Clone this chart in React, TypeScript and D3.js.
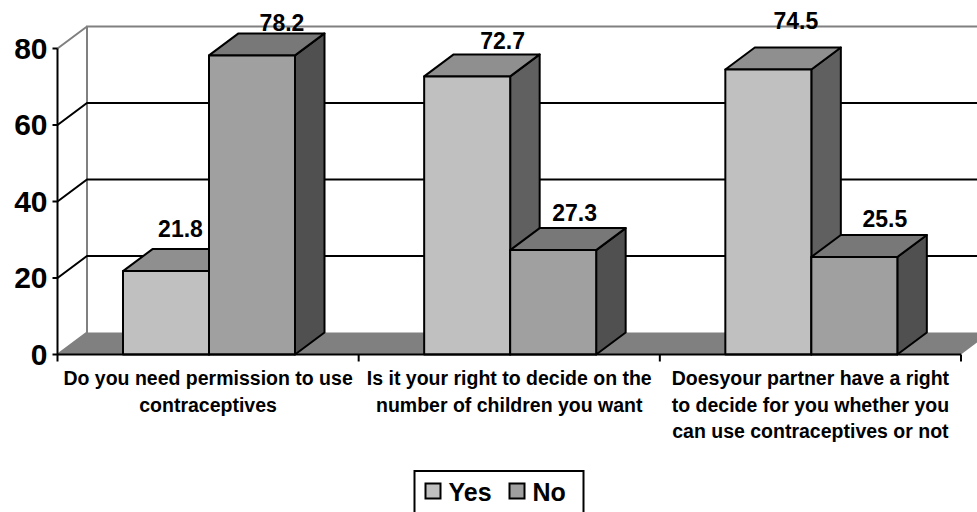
import React from "react";
import * as d3 from "d3";

const categories = ["q1", "q2", "q3"];
const categoryLines = [
  ["Do you need permission to use", "contraceptives"],
  ["Is it your right to decide on the", "number of children you want"],
  ["Doesyour partner have a right", "to decide for you whether you", "can use contraceptives or not"],
];
const seriesNames = ["Yes", "No"];
const yesValues = [21.8, 72.7, 74.5];
const noValues = [78.2, 27.3, 25.5];
const yTicks = [0, 20, 40, 60, 80];

// Hand-placed data label nudges from the default spot above each column.
const yesLabelDx = [-15, 6, -2];
const yesLabelDy = [-12, -5.5, -18.5];
const noLabelDx = [0.5, -8, 1];
const noLabelDy = [-2.5, -7, -8];

const width = 977;
const height = 512;
const depthX = 29.5;
const depthY = 22;
const font = "'Liberation Sans', Arial, sans-serif";

const palette = {
  Yes: { front: "#c0c0c0", top: "#8f8f8f", side: "#606060" },
  No: { front: "#a0a0a0", top: "#787878", side: "#505050" },
};

const x0 = d3.scaleBand<string>().domain(categories).range([57.5, 961]);
const x1 = d3.scaleBand<string>().domain(seriesNames).range([65.5, 237.5]);
const y = d3.scaleLinear().domain([0, 80]).range([354.5, 48.5]);

const poly = (pts: [number, number][]) => {
  const p = d3.path();
  pts.forEach(([a, b], i) => (i ? p.lineTo(a, b) : p.moveTo(a, b)));
  p.closePath();
  return p.toString();
};

function Column({ x, w, value, colors }: { x: number; w: number; value: number; colors: typeof palette.Yes }) {
  const t = y(value);
  const b = y(0);
  const stroke = { stroke: "#000", strokeWidth: 2, strokeLinejoin: "round" as const };
  return (
    <g>
      <path d={poly([[x + w, b], [x + w + depthX, b - depthY], [x + w + depthX, t - depthY], [x + w, t]])} fill={colors.side} {...stroke} />
      <path d={poly([[x, t], [x + depthX, t - depthY], [x + w + depthX, t - depthY], [x + w, t]])} fill={colors.top} {...stroke} />
      <rect x={x} y={t} width={w} height={b - t} fill={colors.front} {...stroke} />
    </g>
  );
}

export default function App() {
  const left = x0.range()[0];
  const right = x0.range()[1];
  const bw = x1.bandwidth();
  return (
    <svg width={width} height={height} style={{ position: "absolute", left: 0, top: 0, background: "#fff" }} fontFamily={font} fontWeight="bold">
      {/* floor */}
      <path d={poly([[left, y(0)], [left + depthX, y(0) - depthY], [right + depthX, y(0) - depthY], [right, y(0)]])} fill="#808080" />
      {/* back wall edges */}
      <path d={`M${left},${y(0)}L${left + depthX},${y(0) - depthY}V${y(80) - depthY}H${width}M${left},${y(80)}L${left + depthX},${y(80) - depthY}`} fill="none" stroke="#808080" strokeWidth={2} />
      {/* gridlines */}
      {yTicks.slice(1, -1).map((t) => (
        <path key={t} d={`M${left},${y(t)}L${left + depthX},${y(t) - depthY}H${width}`} fill="none" stroke="#000" strokeWidth={2} />
      ))}
      {/* columns */}
      {categories.map((c, i) => (
        <g key={c}>
          <Column x={x0(c)! + x1("Yes")!} w={bw} value={yesValues[i]} colors={palette.Yes} />
          <Column x={x0(c)! + x1("No")!} w={bw} value={noValues[i]} colors={palette.No} />
        </g>
      ))}
      {/* axes */}
      <path d={`M${left},${y(80)}V${y(0) + 7}M${left},${y(0)}H${right}`} fill="none" stroke="#000" strokeWidth={2} />
      {yTicks.map((t) => (
        <g key={t}>
          <line x1={left - 5} x2={left} y1={y(t)} y2={y(t)} stroke="#000" strokeWidth={2} />
          <text x={47.5} y={y(t) + 10} textAnchor="end" fontSize={30}>{t}</text>
        </g>
      ))}
      {categories.map((c) => (
        <line key={c} x1={x0(c)! + x0.bandwidth()} x2={x0(c)! + x0.bandwidth()} y1={y(0)} y2={y(0) + 7} stroke="#000" strokeWidth={2} />
      ))}
      {categoryLines.map((lines, i) => (
        <text key={i} textAnchor="middle" fontSize={19.5}>
          {lines.map((l, j) => (
            <tspan key={j} x={x0(categories[i])! + x0.bandwidth() / 2} y={385 + j * 26.5}>{l}</tspan>
          ))}
        </text>
      ))}
      {/* data labels */}
      {categories.map((c, i) => (
        <g key={c} fontSize={23} textAnchor="middle">
          <text x={x0(c)! + x1("Yes")! + bw / 2 + depthX + yesLabelDx[i]} y={y(yesValues[i]) - depthY + yesLabelDy[i]}>{yesValues[i]}</text>
          <text x={x0(c)! + x1("No")! + bw / 2 + depthX + noLabelDx[i]} y={y(noValues[i]) - depthY + noLabelDy[i]}>{noValues[i]}</text>
        </g>
      ))}
      {/* legend */}
      <rect x={414.5} y={471} width={169} height={60} fill="#fff" stroke="#000" strokeWidth={2} />
      {seriesNames.map((s, i) => {
        const sx = i === 0 ? 425.5 : 509.5;
        return (
          <g key={s}>
            <rect x={sx} y={483.5} width={15} height={15} fill={palette[s as "Yes" | "No"].front} stroke="#000" strokeWidth={2} />
            <text x={sx + 23} y={500.5} fontSize={25}>{s}</text>
          </g>
        );
      })}
    </svg>
  );
}
